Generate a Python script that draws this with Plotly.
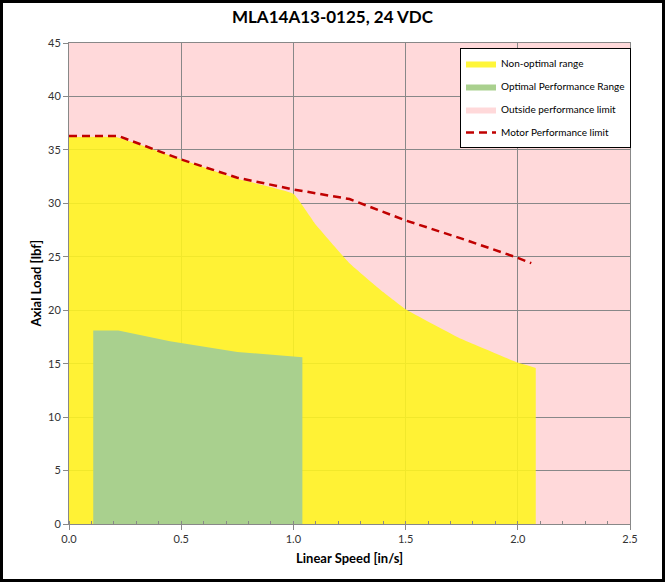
import plotly.graph_objects as go

# ---- data ----
nonopt_x = [0.0, 0.21, 0.5, 0.75, 1.0, 1.1, 1.25, 1.4, 1.5, 1.75, 2.0, 2.08]
nonopt_y = [36.2, 36.2, 34.1, 32.3, 30.9, 28.0, 24.4, 21.7, 20.1, 17.3, 15.1, 14.6]

opt_x = [0.108, 0.22, 0.45, 0.75, 1.04]
opt_y = [18.1, 18.1, 17.1, 16.1, 15.6]

limit_x = [0.0, 0.22, 0.5, 0.75, 1.0, 1.25, 1.5, 1.75, 2.0, 2.06]
limit_y = [36.3, 36.3, 34.1, 32.4, 31.3, 30.4, 28.4, 26.7, 24.9, 24.4]

x_ticks = [0.0, 0.5, 1.0, 1.5, 2.0, 2.5]
x_tick_labels = ["0.0", "0.5", "1.0", "1.5", "2.0", "2.5"]
y_ticks = [0, 5, 10, 15, 20, 25, 30, 35, 40, 45]

FONT = "Lato, 'Open Sans', sans-serif"
W, H = 665, 582
L, R, T, B = 69, 35, 43, 58
PW, PH = W - L - R, H - T - B

fig = go.Figure()

fig.add_trace(go.Scatter(
    x=nonopt_x, y=nonopt_y, mode="lines", fill="tozeroy", line_shape="spline",
    fillcolor="rgba(255,245,30,0.88)", line=dict(width=0, color="rgba(255,245,30,0.88)", smoothing=0.3),
    name="Non-optimal range", legendgroup="a", hoverinfo="skip"))

fig.add_trace(go.Scatter(
    x=opt_x, y=opt_y, mode="lines", fill="tozeroy",
    fillcolor="#A9D08E", line=dict(width=0, color="#A9D08E"),
    name="Optimal Performance Range", legendgroup="b", hoverinfo="skip"))

fig.add_trace(go.Scatter(
    x=[None], y=[None], mode="lines", fill="toself",
    fillcolor="#FFD9DA", line=dict(width=0, color="#FFD9DA"),
    name="Outside performance limit", legendgroup="c"))

fig.add_trace(go.Scatter(
    x=limit_x, y=limit_y, mode="lines",
    line=dict(color="#C00000", width=2.5, dash="8px,5px"),
    name="Motor Performance limit", legendgroup="d", hoverinfo="skip"))

axis_common = dict(
    showgrid=True, gridcolor="#888888", gridwidth=1,
    showline=True, linecolor="#888888", linewidth=1, mirror=True,
    ticks="outside", ticklen=5, tickcolor="#888888",
    tickfont=dict(family=FONT, size=11, color="#333333"),
    zeroline=False, fixedrange=True,
)

fig.update_xaxes(range=[0, 2.5], tickvals=x_ticks, ticktext=x_tick_labels,
                 minor=dict(ticks="inside", dtick=0.1, ticklen=3, tickcolor="#888888", showgrid=False),
                 **axis_common)
fig.update_yaxes(range=[0, 45], tickvals=y_ticks, **axis_common)

fig.update_layout(
    width=W, height=H,
    margin=dict(l=L, r=R, t=T, b=B),
    paper_bgcolor="white", plot_bgcolor="#FFD9DA",
    title=dict(text="<b>MLA14A13-0125, 24 VDC</b>", x=0.5, xanchor="center",
               y=1 - 17 / H, yanchor="middle", yref="container",
               font=dict(family=FONT, size=17, color="black")),
    legend=dict(x=(460 - L) / PW, y=1 - (48 - T) / PH, xanchor="left", yanchor="top",
                bgcolor="white", bordercolor="black", borderwidth=1,
                font=dict(family=FONT, size=10, color="black"),
                itemwidth=30, tracegroupgap=4, traceorder="grouped"),
    showlegend=True,
    annotations=[
        dict(text="<b>Linear Speed [in/s]</b>", xref="paper", yref="paper",
             x=0.5, y=-(558 - 524) / PH, xanchor="center", yanchor="middle",
             showarrow=False, font=dict(family=FONT, size=13, color="black")),
        dict(text="<b>Axial Load [lbf]</b>", xref="paper", yref="paper",
             x=(35 - L) / PW, y=0.5, xanchor="center", yanchor="middle", textangle=-90,
             showarrow=False, font=dict(family=FONT, size=13, color="black")),
    ],
    shapes=[
        dict(type="rect", xref="paper", yref="paper",
             x0=(1.5 - L) / PW, x1=(W - 1.5 - L) / PW,
             y0=1 + (T - 1.5) / PH, y1=-(B - 1.5) / PH,
             line=dict(color="black", width=3), fillcolor="rgba(0,0,0,0)", layer="above"),
    ],
)

fig.write_html("out.html")
